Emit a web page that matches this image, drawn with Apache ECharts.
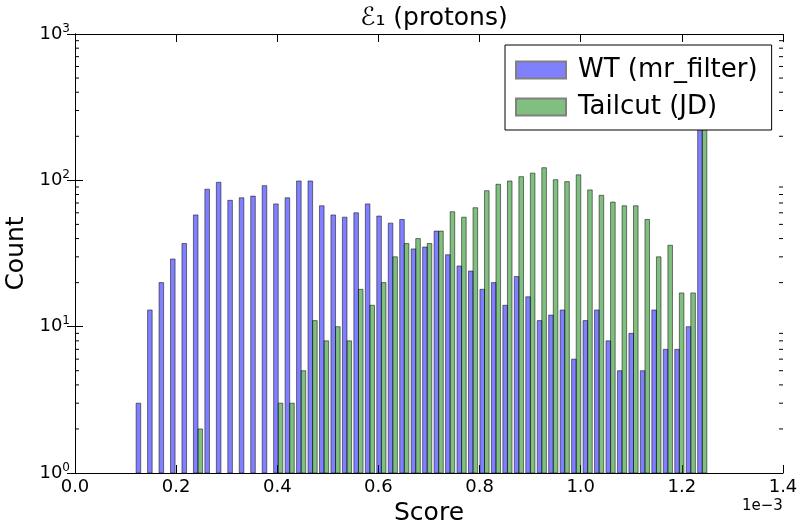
<!DOCTYPE html>
<html>
<head>
<meta charset="utf-8">
<script src="https://cdn.jsdelivr.net/npm/echarts@6/dist/echarts.min.js"></script>
<style>
html,body{margin:0;padding:0;background:#fff;}
#chart{width:798px;height:523px;}
</style>
</head>
<body>
<div id="chart"></div>
<script>
// Histogram range (units of 1e-3) and bin count
const binLo = 0.1186;
const binHi = 1.2517;
const nBins = 50;
const seriesNames = ['WT (mr_filter)', 'Tailcut (JD)'];
const wtCounts = [3,13,20,29,37,58,87,97,73,76,78,92,69,76,99,99,67,58,56,60,69,57,51,54,34,35,45,31,26,24,18,20,14,22,16,11,12,13,6,11,13,8,5,9,5,13,7,7,10,300];
const tailCounts = [0,0,0,0,0,2,0,0,0,0,0,0,3,3,5,11,8,10,8,18,14,20,30,37,40,37,45,61,56,65,85,94,99,106,112,122,101,98,109,86,79,71,67,67,54,30,36,17,17,280];
const xTicks = [0, 0.2, 0.4, 0.6, 0.8, 1.0, 1.2, 1.4];
const yTicks = [1, 10, 100, 1000];

const bw = (binHi - binLo) / nBins;
function barData(counts, offset) {
  const out = [];
  counts.forEach((c, i) => {
    if (c > 0) {
      const s = binLo + i * bw;
      out.push([s + offset * bw, s + (offset + 0.4) * bw, c]);
    }
  });
  return out;
}
const minorVals = [];
[1, 10, 100].forEach(d => { for (let m = 2; m <= 9; m++) minorVals.push([m * d]); });

function barRender(fill) {
  return function (params, api) {
    const p0 = api.coord([api.value(0), api.value(2)]);
    const p1 = api.coord([api.value(1), 1]);
    return {
      type: 'rect',
      shape: { x: p0[0], y: p0[1], width: p1[0] - p0[0], height: p1[1] - p0[1] },
      style: { fill: fill, stroke: 'rgba(0,0,0,0.5)', lineWidth: 1 }
    };
  };
}

const font = 'DejaVu Sans';
const chart = echarts.init(document.getElementById('chart'), null, { renderer: 'canvas' });
const yLabel = {
  fontFamily: font, color: '#000', margin: 5,
  formatter: v => '{b|10}{s|' + Math.round(Math.log10(v)) + '}',
  rich: {
    b: { fontFamily: font, fontSize: 18, color: '#000' },
    s: { fontFamily: font, fontSize: 12, color: '#000', padding: [0, 0, 11, 0] }
  }
};
chart.setOption({
  animation: false,
  backgroundColor: '#fff',
  title: {
    text: 'ℰ₁ (protons)', left: 429, top: 1, textAlign: 'center',
    textStyle: { fontFamily: font, fontSize: 25, fontWeight: 'normal', color: '#000' }
  },
  grid: { left: 75, right: 15, top: 34, bottom: 50, containLabel: false, outerBoundsMode: 'none' },
  legend: {
    data: seriesNames, orient: 'vertical', left: 505, top: 45,
    icon: 'rect', itemWidth: 50, itemHeight: 17, itemGap: 11,
    padding: [12, 14, 10, 10], borderColor: '#000', borderWidth: 1, borderRadius: 0,
    backgroundColor: '#fff', z: 10,
    textStyle: { fontFamily: font, fontSize: 26, lineHeight: 26, color: '#000', padding: [0, 0, 0, 7] }
  },
  xAxis: [{
    type: 'value', min: 0, max: 1.4, interval: 0.2, position: 'bottom',
    name: 'Score', nameLocation: 'middle', nameGap: 27,
    nameTextStyle: { fontFamily: font, fontSize: 25, color: '#000' },
    axisLine: { lineStyle: { color: '#000', width: 1 } },
    axisTick: { inside: true, length: 8, lineStyle: { color: '#000' } },
    axisLabel: { fontFamily: font, fontSize: 18, color: '#000', margin: 5, formatter: v => v.toFixed(1) },
    splitLine: { show: false }
  }, {
    type: 'value', min: 0, max: 1.4, interval: 0.2, position: 'top',
    axisLine: { lineStyle: { color: '#000', width: 1 } },
    axisTick: { inside: true, length: 8, lineStyle: { color: '#000' } },
    axisLabel: { show: false }, splitLine: { show: false }
  }],
  yAxis: [{
    type: 'log', logBase: 10, min: 1, max: 1000, position: 'left',
    name: 'Count', nameLocation: 'middle', nameGap: 42,
    nameTextStyle: { fontFamily: font, fontSize: 25, color: '#000' },
    axisLine: { show: true, lineStyle: { color: '#000', width: 1 } },
    axisTick: { inside: true, length: 8, lineStyle: { color: '#000' } },
    axisLabel: yLabel, splitLine: { show: false }
  }, {
    type: 'log', logBase: 10, min: 1, max: 1000, position: 'right',
    axisLine: { show: true, lineStyle: { color: '#000', width: 1 } },
    axisTick: { inside: true, length: 8, lineStyle: { color: '#000' } },
    axisLabel: { show: false }, splitLine: { show: false }
  }],
  graphic: [{
    type: 'text', left: 742, top: 499,
    style: { text: '1e\u22123', font: '15px "DejaVu Sans"', fill: '#000' }
  }],
  series: [{
    name: seriesNames[0], type: 'custom', xAxisIndex: 0, yAxisIndex: 0,
    itemStyle: { color: '#8080ff', borderColor: '#808080', borderWidth: 1 },
    encode: { x: [0, 1], y: 2 },
    renderItem: barRender('rgba(0,0,255,0.5)'),
    data: barData(wtCounts, 0.1), clip: true, z: 2
  }, {
    name: seriesNames[1], type: 'custom', xAxisIndex: 0, yAxisIndex: 0,
    itemStyle: { color: '#80bf80', borderColor: '#808080', borderWidth: 1 },
    encode: { x: [0, 1], y: 2 },
    renderItem: barRender('rgba(0,128,0,0.5)'),
    data: barData(tailCounts, 0.5), clip: true, z: 2
  }, {
    name: 'minorTicks', type: 'custom', xAxisIndex: 0, yAxisIndex: 0, silent: true,
    encode: { y: 0 },
    renderItem: function (params, api) {
      const v = api.value(0);
      const pl = api.coord([0, v]);
      const pr = api.coord([1.4, v]);
      return {
        type: 'group', children: [
          { type: 'line', shape: { x1: pl[0], y1: pl[1], x2: pl[0] + 4, y2: pl[1] }, style: { stroke: '#000', lineWidth: 1 } },
          { type: 'line', shape: { x1: pr[0], y1: pr[1], x2: pr[0] - 4, y2: pr[1] }, style: { stroke: '#000', lineWidth: 1 } }
        ]
      };
    },
    data: minorVals, z: 3
  }]
});
</script>
</body>
</html>
